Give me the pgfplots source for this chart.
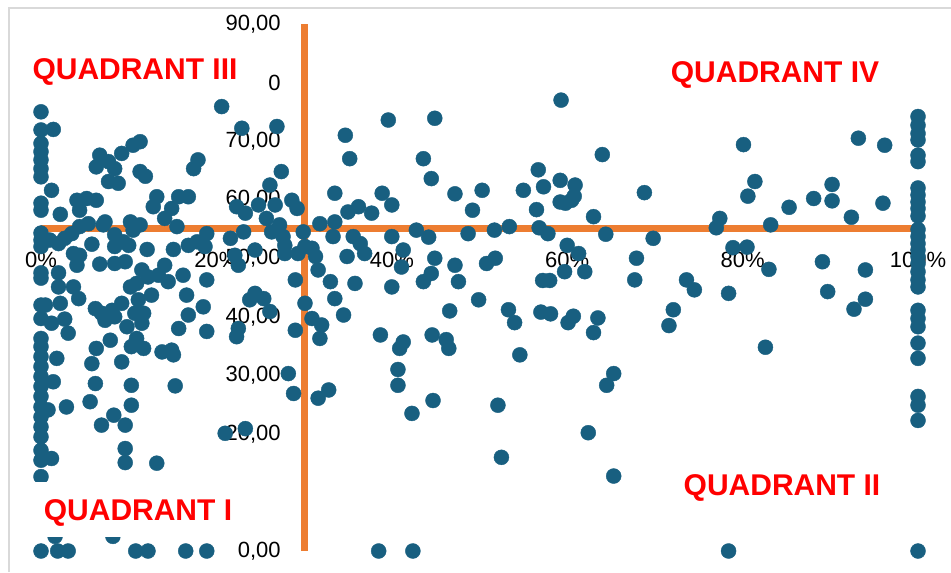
\documentclass[border=0pt]{standalone}
\usepackage{pgfplots}
\pgfplotsset{compat=1.18}
\usepackage{pgfplotstable}
\usepackage{fontspec}
\setmainfont{Liberation Sans}
\definecolor{ptcol}{RGB}{24,95,128}
\definecolor{axorange}{RGB}{237,125,49}
\definecolor{framegray}{RGB}{217,217,217}

\pgfplotstableread{
x y
0 75.0
0 71.9
0 69.6
0 68.2
0 66.8
0 65.3
0 63.9
0 59.4
0 58.2
0 54.3
0 53.1
0 52.0
0 47.5
0 46.6
0 42.0
0 39.7
0 36.3
0 34.9
0 33.2
0 31.5
0 29.8
0 28.1
0 26.4
0 24.6
0 22.9
0 21.2
0 19.5
0 17.2
0 15.5
0 12.7
0 0
1.4 72.0
1.2 61.6
2.2 57.5
4.1 59.9
5.2 60.2
6.3 59.9
4.4 58.2
6.7 67.6
6.3 65.6
9.2 67.9
7.7 66.5
8.4 65.3
7.7 63.1
8.8 62.8
10.5 69.3
11.3 69.9
11.3 64.8
11.9 64.0
13.2 60.5
12.8 58.8
15.7 60.5
16.8 60.5
14.9 58.5
14.1 56.8
15.5 55.4
17.9 66.8
17.4 65.3
5.4 55.9
4.4 55.4
3.5 54.2
2.7 53.4
7.3 56.2
7.1 55.7
10.2 56.2
11.3 55.7
10.5 54.8
8.4 54.0
9.4 52.8
5.8 52.4
1.0 53.1
2.0 52.5
3.7 50.8
4.4 50.5
4.1 48.8
6.7 49.0
8.4 49.1
9.6 49.4
12.1 51.5
8.4 52.0
10.0 52.2
15.1 51.5
16.8 52.2
17.8 52.8
18.9 54.2
18.7 52.0
2.0 47.5
2.0 45.1
3.7 45.1
4.3 43.1
11.5 48.0
12.2 46.8
13.4 47.1
14.1 48.8
14.5 46.0
10.2 45.1
10.9 45.7
11.1 42.9
12.6 43.7
16.2 47.1
16.6 43.7
18.9 46.3
0.5 42.0
2.2 42.3
1.2 38.9
2.7 39.6
3.1 37.2
6.2 41.4
7.3 39.4
8.1 41.1
9.2 42.3
6.9 40.6
8.4 40.0
9.8 38.3
10.7 40.6
11.7 40.6
11.5 38.9
16.8 40.3
15.7 38.0
18.5 41.7
18.9 37.5
7.9 36.0
6.3 34.6
10.3 34.9
11.7 34.6
10.9 36.3
9.2 32.3
5.8 32.0
13.8 34.0
14.9 34.3
15.1 33.5
1.8 32.9
1.4 28.9
6.2 28.6
10.3 28.3
15.3 28.2
0.8 24.1
2.9 24.6
5.6 25.5
8.3 23.2
6.9 21.5
9.6 21.5
10.3 24.9
9.6 17.5
9.6 15.1
13.2 15.0
1.2 15.8
1.6 2.5
8.2 2.5
1.9 0
3.1 0
10.8 0
12.2 0
16.5 0
18.9 0
20.6 75.9
22.9 72.2
26.9 72.5
27.4 64.8
26.1 62.5
28.6 59.9
29.2 58.5
22.3 58.8
23.3 57.7
24.8 59.1
26.7 59.1
25.7 56.8
27.2 55.7
26.3 54.5
23.1 54.5
21.6 53.4
27.6 53.7
27.8 52.2
27.8 50.8
29.9 54.5
24.4 51.4
22.1 50.5
22.5 48.8
29.3 50.8
30.1 52.0
30.9 51.7
31.3 50.3
31.6 48.0
31.8 55.9
33.5 56.2
33.3 53.7
33.5 61.1
35.0 57.9
36.2 58.8
37.7 57.7
35.6 53.7
36.4 52.5
36.9 50.8
34.9 50.3
29.0 46.3
33.0 46.0
33.5 43.1
35.8 45.7
30.1 42.3
30.9 39.7
32.0 38.6
31.8 36.3
34.5 40.3
29.0 37.7
24.4 44.0
25.4 43.1
23.8 42.9
26.1 40.9
22.5 38.0
22.3 36.6
38.7 36.9
28.2 30.3
28.8 26.9
31.6 26.1
32.8 27.5
21.0 20.1
23.3 20.9
34.7 71.0
35.2 67.0
38.9 61.1
40.0 59.1
39.6 73.6
40.0 53.7
40.0 45.1
38.5 0
44.9 73.9
43.6 67.0
44.5 63.6
47.2 61.0
49.2 58.2
50.3 61.6
55.0 61.6
56.5 58.3
56.7 65.1
57.3 62.2
59.2 63.3
59.2 59.6
60.5 59.9
59.8 59.4
59.3 77.0
42.8 54.8
44.2 53.6
41.3 51.4
41.1 48.5
44.9 50.0
44.5 47.4
43.6 46.0
47.2 48.8
47.6 46.0
48.7 54.2
51.7 54.8
53.4 55.4
50.8 49.1
51.8 50.0
49.9 42.9
46.6 41.0
53.3 41.2
54.0 39.0
56.8 55.2
57.8 54.2
60.0 52.2
59.7 47.7
57.2 46.2
58.0 46.2
57.0 40.8
58.1 40.5
60.7 40.1
60.1 39.0
44.6 36.9
41.3 35.7
40.9 34.6
46.2 36.1
46.5 34.6
40.7 31.0
40.7 28.3
44.7 25.7
42.3 23.5
52.1 24.9
54.6 33.5
52.5 16.0
42.4 0
64.0 67.7
60.9 62.5
60.8 60.6
63.0 57.1
64.4 54.1
68.8 61.2
69.8 53.4
61.3 50.8
62.0 47.7
67.9 50.0
67.7 46.3
73.6 46.3
74.5 44.6
72.1 41.2
71.6 38.5
78.4 44.0
77.4 56.8
77.0 55.2
78.9 51.8
80.5 51.9
80.1 69.4
80.6 60.6
81.4 63.1
63.5 39.8
63.0 37.3
65.3 30.3
64.5 28.3
62.4 20.2
65.3 12.8
78.4 0
83.2 55.7
85.3 58.7
88.1 60.2
90.2 62.6
90.2 59.8
92.4 57.0
93.2 70.5
96.2 69.3
96.0 59.4
83.0 48.1
89.1 49.4
89.7 44.3
94.0 48.0
94.0 43.0
92.7 41.3
82.6 34.8
100 74.2
100 72.7
100 71.3
100 70.2
100 67.6
100 66.5
100 62.0
100 60.8
100 59.6
100 58.5
100 57.2
100 54.9
100 53.7
100 52.5
100 51.4
100 50.3
100 49.1
100 47.7
100 46.3
100 45.1
100 41.1
100 39.7
100 38.3
100 35.5
100 32.9
100 26.4
100 24.9
100 22.3
100 0
}\pts

\begin{document}
\begin{tikzpicture}
\begin{scope}[x=0.5pt,y=-0.5pt]
\path[use as bounding box] (0,0) rectangle (951,572);
\draw[framegray, line width=0.7pt] (9,572) -- (9,8) -- (951,8);
\end{scope}
\begin{axis}[
  at={(20.5pt,-275.5pt)}, anchor=south west,
  scale only axis, width=438.5pt, height=263.5pt,
  xmin=0, xmax=100, ymin=0, ymax=90,
  clip=false,
  axis line style={draw=none},
  major tick length=0pt,
  xtick={0,20,40,60,80,100},
  xticklabels={0\%,20\%,40\%,60\%,80\%,100\%},
  ytick={0,20,30,40,50,60,70,80,90},
  yticklabels={{0,00},{20,00},{30,00},{40,00},{50,00},{60,00},{70,00},{0},{90,00}},
  ticklabel style={font=\fontsize{11}{13}\selectfont, text=black},
  xticklabel style={anchor=center, inner sep=0pt, yshift=145.75pt},
  yticklabel style={anchor=east, inner sep=0pt, xshift=120pt},
]
\addplot[axorange, line width=3.5pt] coordinates {(0,55) (100,55)};
\addplot[axorange, line width=3.5pt] coordinates {(30,0) (30,90)};
\addplot[only marks, mark=*, mark size=3.75pt, mark options={draw=ptcol, fill=ptcol, line width=0.2pt}] table[x=x, y=y] {\pts};
\end{axis}
\begin{scope}[x=0.5pt,y=-0.5pt, every node/.style={font=\bfseries\fontsize{15}{18}\selectfont, text=red, text depth=0pt, inner sep=0pt}]
\fill[white] (20,40) rectangle (266,96);
\node at (135,69) {QUADRANT III};
\fill[white] (20,482) rectangle (285,537);
\node at (138,510) {QUADRANT I};
\node at (775,72) {QUADRANT IV};
\node at (782,485) {QUADRANT II};
\end{scope}
\end{tikzpicture}
\end{document}
